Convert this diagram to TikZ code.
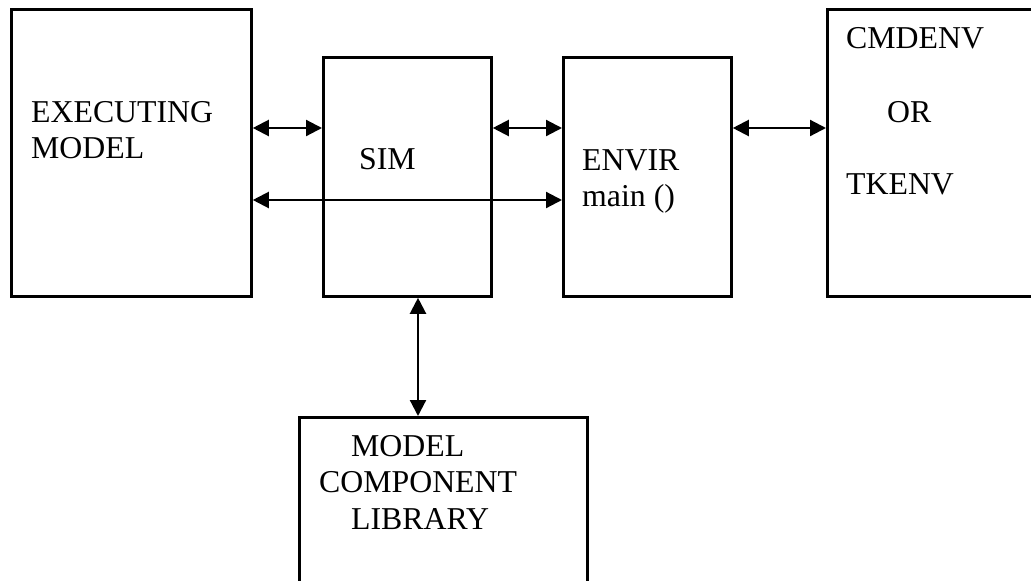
\documentclass[tikz,border=0pt]{standalone}
\usepackage{fontspec}
\setmainfont{Liberation Serif}
\usetikzlibrary{arrows.meta}

\tikzset{
  block/.style={draw=black, line width=2.8pt, rectangle, inner sep=0pt, anchor=north west},
  label text/.style={anchor=base west, inner sep=0pt, font=\fontsize{31.8}{36}\selectfont},
  link/.style={line width=2.2pt, {Triangle[length=16pt,width=16pt]}-{Triangle[length=16pt,width=16pt]}}
}

\begin{document}
\begin{tikzpicture}[x=1pt,y=-1pt]
  \useasboundingbox (0,0) rectangle (1031,581);
  \clip (0,0) rectangle (1031,581);

  % blocks
  \node[block, minimum width=240pt, minimum height=287pt] (exec) at (10,8) {};
  \node[block, minimum width=168pt, minimum height=239pt] (sim) at (322,56) {};
  \node[block, minimum width=168pt, minimum height=239pt] (envir) at (562,56) {};
  \node[block, minimum width=260pt, minimum height=287pt] (ui) at (826,8) {};
  \node[block, minimum width=288pt, minimum height=220pt] (lib) at (298,416) {};

  % texts
  \node[label text] (t1) at (31,122) {EXECUTING};
  \node[label text] (t2) at (31,158) {MODEL};
  \node[label text] (t3) at (359,169) {SIM};
  \node[label text] (t4) at (582,170) {ENVIR};
  \node[label text] (t5) at (582,206) {main ()};
  \node[label text] (t6) at (846,48) {CMDENV};
  \node[label text] (t7) at (887,122) {OR};
  \node[label text] (t8) at (846,194) {TKENV};
  \node[label text] (t9) at (351,456) {MODEL};
  \node[label text] (t10) at (319,492) {COMPONENT};
  \node[label text] (t11) at (351,529) {LIBRARY};

  % connector rows and column
  \coordinate (rowA) at (0,128);
  \coordinate (rowB) at (0,200);
  \coordinate (colV) at (418,0);

  \draw[link] (exec.east |- rowA) -- (sim.west |- rowA);
  \draw[link] (sim.east |- rowA) -- (envir.west |- rowA);
  \draw[link] (envir.east |- rowA) -- (ui.west |- rowA);
  \draw[link] (exec.east |- rowB) -- (envir.west |- rowB);
  \draw[link] (sim.south -| colV) -- (lib.north -| colV);
\end{tikzpicture}
\end{document}
